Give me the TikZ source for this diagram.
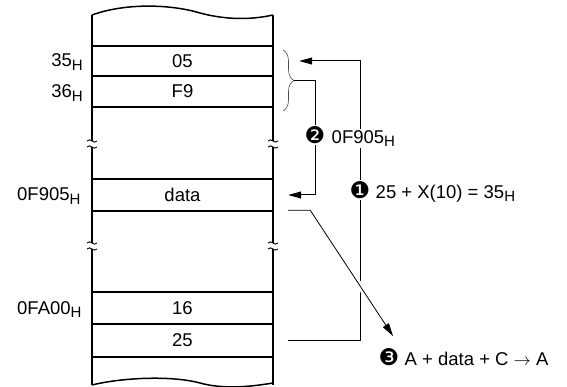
\documentclass[tikz,border=0pt]{standalone}
\usepackage{fontspec}
\setmainfont{Liberation Sans}
\newfontfamily\dingfont{DejaVu Sans}
\usetikzlibrary{arrows.meta, decorations.pathreplacing, positioning}

\newcommand{\hsub}[1]{#1\raisebox{-0.35ex}{\fontsize{15}{15}\selectfont H}}
\newcommand{\stepnum}[1]{{\dingfont\fontsize{23}{23}\selectfont #1}}

\tikzset{
  cell/.style={minimum width=181pt, minimum height=30pt, inner sep=0pt},
  addr/.style={inner sep=0pt},
  rowline/.style={line width=1.1pt},
  link/.style={line width=1pt},
  tip/.style={-{Triangle[length=13pt,width=7pt]}},
  numlbl/.style={fill=white, inner sep=1pt},
}

\begin{document}
\begin{tikzpicture}[x=1pt,y=-1pt,font=\fontsize{18.5}{21}\selectfont]
\useasboundingbox (0,0) rectangle (567,387);

% memory column
\draw[line width=1.5pt] (92,15) .. controls (125,3) and (170,4) .. (200,13) .. controls (230,21) and (255,19) .. (273,15);
\draw[line width=1.5pt] (92,385) .. controls (120,378) and (170,375) .. (200,383) .. controls (225,390) and (255,386) .. (273,383);
\draw[line width=2pt] (92,15) -- (92,385);
\draw[line width=2pt] (273,15) -- (273,385);
\foreach \y in {46,76,107,179,211,292,324,357}
  \draw[rowline] (92,\y) -- (273,\y);

% break marks
\foreach \bx in {92,273}
  \foreach \by in {144,246} {
    \fill[white] (\bx-3,\by-3) rectangle (\bx+3,\by+3);
    \draw[line width=0.9pt] (\bx-5,\by-3) .. controls (\bx-2,\by-7) and (\bx+2,\by+1) .. (\bx+5,\by-3);
    \draw[line width=0.9pt] (\bx-5,\by+3) .. controls (\bx-2,\by-1) and (\bx+2,\by+7) .. (\bx+5,\by+3);
  }

% cells
\node[cell] (m05) at (182.5,61) {05};
\node[cell] (mF9) at (182.5,91.5) {F9};
\node[cell] (mdata) at (182.5,195) {data};
\node[cell] (m16) at (182.5,308) {16};
\node[cell] (m25) at (182.5,340.5) {25};

% addresses
\node[addr, anchor=base east] (a35) at (83,67) {\hsub{35}};
\node[addr, anchor=base east] (a36) at (83,98) {\hsub{36}};
\node[addr, anchor=base west] (aF905) at (17,201) {\hsub{0F905}};
\node[addr, anchor=base west] (aFA00) at (17,314) {\hsub{0FA00}};

% brace over 35H/36H
\draw[decorate, decoration={brace, amplitude=11pt}, line width=0.6pt, black!70] (283,50) -- (283,111);
\coordinate (btip) at (294,80.5);

% step 1 and step 2
\draw[link, tip] ([xshift=15pt]m25.east) -- ++(72,0) |- ([xshift=26pt]m05.east);
\draw[link, tip] (btip) -- ++(21,0) |- ([xshift=15pt]mdata.east);

% step 3
\coordinate (a3) at (393,336);
\draw[line width=0.8pt, tip, preaction={draw=white, line width=6pt}] ([xshift=15pt]mdata.south east) -- ++(22,0) -- (a3);

% labels
\node[numlbl] (n2) at (315,135) {\stepnum{❷}};
\node[numlbl, anchor=base west] (t2) at ([xshift=4pt]n2.base east) {\hsub{0F905}};
\node[numlbl] (n1) at (360,190) {\stepnum{❶}};
\node[numlbl, anchor=base west] (t1) at ([xshift=3pt]n1.base east) {25 + X(10) = \hsub{35}};
\node[inner sep=1pt] (n3) at (389,357) {\stepnum{❸}};
\node[inner sep=1pt, anchor=base west] (t3) at ([xshift=3pt]n3.base east) {A + data + C $\rightarrow$ A};
\end{tikzpicture}
\end{document}
